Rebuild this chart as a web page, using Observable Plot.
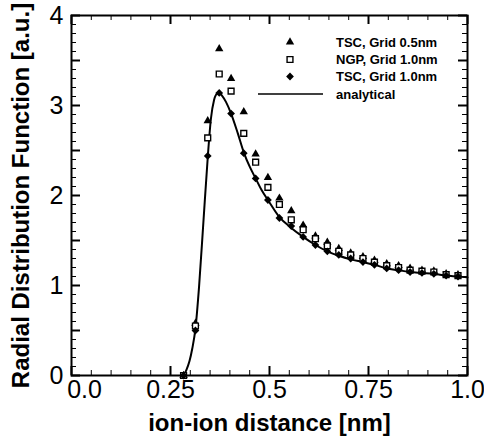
<!DOCTYPE html>
<html><head><meta charset="utf-8">
<script src="https://cdn.jsdelivr.net/npm/d3@7"></script>
<script src="https://cdn.jsdelivr.net/npm/@observablehq/plot@0.6"></script>
<style>
html,body{margin:0;padding:0;background:#fff;}
#wrap{position:relative;width:484px;height:439px;overflow:hidden;}
#wrap text{font-family:"Liberation Sans",Arial,Helvetica,sans-serif;}
#legend{position:absolute;left:0;top:0;pointer-events:none;}
</style></head><body><div id="wrap"></div>
<script>
// ---- data ----
const xPos   = [0.283, 0.313, 0.344, 0.373, 0.403, 0.435, 0.465, 0.496, 0.525, 0.555, 0.585, 0.616, 0.646, 0.675, 0.705, 0.736, 0.765, 0.796, 0.826, 0.855, 0.885, 0.915, 0.946, 0.976];
const tsc05  = [0, 0.58, 2.83, 3.63, 3.30, 2.93, 2.46, 2.20, 1.97, 1.83, 1.67, 1.55, 1.48, 1.41, 1.36, 1.32, 1.28, 1.24, 1.22, 1.19, 1.17, 1.16, 1.13, 1.12];
const ngp10  = [0, 0.55, 2.64, 3.35, 3.16, 2.69, 2.37, 2.09, 1.90, 1.73, 1.62, 1.52, 1.44, 1.38, 1.34, 1.30, 1.26, 1.22, 1.20, 1.17, 1.16, 1.15, 1.12, 1.11];
const tsc10  = [0, 0.50, 2.44, 3.14, 2.91, 2.47, 2.19, 1.95, 1.75, 1.66, 1.54, 1.45, 1.38, 1.34, 1.30, 1.26, 1.23, 1.19, 1.17, 1.15, 1.14, 1.13, 1.11, 1.10];
const curveX = [0.283, 0.290, 0.298, 0.305, 0.313, 0.322, 0.333, 0.344, 0.352, 0.360, 0.367, 0.373, 0.380, 0.390, 0.403, 0.420, 0.435, 0.450, 0.465, 0.480, 0.496, 0.525, 0.555, 0.585, 0.616, 0.646, 0.675, 0.705, 0.736, 0.765, 0.796, 0.826, 0.855, 0.885, 0.915, 0.946, 0.976, 1.0];
const curveY = [0, 0.06, 0.16, 0.30, 0.52, 0.98, 1.70, 2.42, 2.85, 3.06, 3.13, 3.14, 3.11, 3.04, 2.91, 2.69, 2.48, 2.32, 2.19, 2.06, 1.95, 1.76, 1.64, 1.54, 1.45, 1.38, 1.33, 1.29, 1.26, 1.23, 1.19, 1.17, 1.15, 1.14, 1.13, 1.11, 1.10, 1.09];
const xTicks = [0, 0.25, 0.5, 0.75, 1.0];
const xTickLabels = ["0.0", "0.25", "0.5", "0.75", "1.0"];
const yTicks = [0, 1, 2, 3, 4];
const yTickLabels = ["0", "1", "2", "3", "4"];
const seriesNames = ["TSC, Grid 0.5nm", "NGP, Grid 1.0nm", "TSC, Grid 1.0nm", "analytical"];
const xTitle = "ion-ion distance [nm]";
const yTitle = "Radial Distribution Function [a.u.]";

// ---- tables ----
const pts = (ys) => xPos.map((x, i) => ({x, y: ys[i]}));
const curve = curveX.map((x, i) => ({x, y: curveY[i]}));
const xMajor = d3.range(0, 1.0001, 0.25);
const xMinor = d3.range(0, 1.0001, 0.05);
const yMajor = d3.range(0, 4.0001, 0.5);
const yMinor = d3.range(0, 4.0001, 0.1);

const W = 484, H = 439;
const mL = 71, mR = 17, mT = 15, mB = 64;
const xSpan = 1 - 0, ySpan = 4 - 0;
const pxX = (W - mL - mR) / xSpan, pxY = (H - mT - mB) / ySpan;
const tX = (px) => px / pxY; // pixel length -> y units (for x-axis ticks)
const tY = (px) => px / pxX; // pixel length -> x units (for y-axis ticks)

const R_TRI = 3.1, R_SQ = 3.3, R_DIA = 3.5;
const fmtX = d => xTickLabels[xTicks.indexOf(d)];
const fmtY = d => yTickLabels[yTicks.indexOf(d)];

const plot = Plot.plot({
  width: W, height: H,
  marginLeft: mL, marginRight: mR, marginTop: mT, marginBottom: mB,
  x: {domain: [0, 1]},
  y: {domain: [0, 4]},
  style: {background: "white", color: "black", fontFamily: "'Liberation Sans', Arial, sans-serif"},
  marks: [
    // inward ticks, bottom & top
    Plot.ruleX(xMinor, {x: d => d, y1: 0, y2: tX(5), strokeWidth: 1}),
    Plot.ruleX(xMinor, {x: d => d, y1: 4, y2: 4 - tX(5), strokeWidth: 1}),
    Plot.ruleX(xMajor, {x: d => d, y1: 0, y2: tX(9), strokeWidth: 2}),
    Plot.ruleX(xMajor, {x: d => d, y1: 4, y2: 4 - tX(9), strokeWidth: 2}),
    // inward ticks, left & right
    Plot.ruleY(yMinor, {y: d => d, x1: 0, x2: tY(5), strokeWidth: 1}),
    Plot.ruleY(yMinor, {y: d => d, x1: 1, x2: 1 - tY(5), strokeWidth: 1}),
    Plot.ruleY(yMajor, {y: d => d, x1: 0, x2: tY(9), strokeWidth: 2}),
    Plot.ruleY(yMajor, {y: d => d, x1: 1, x2: 1 - tY(9), strokeWidth: 2}),
    Plot.frame({stroke: "black", strokeWidth: 2}),
    Plot.axisX(xTicks.slice(0, 1), {tickSize: 0, tickPadding: 5, fontSize: 25, label: null, dx: 13, tickFormat: fmtX}),
    Plot.axisX(xTicks.slice(1), {tickSize: 0, tickPadding: 5, fontSize: 25, label: null, tickFormat: fmtX}),
    Plot.axisY(yTicks, {tickSize: 0, tickPadding: 8, fontSize: 25, label: null, tickFormat: fmtY}),
    Plot.line(curve, {x: "x", y: "y", stroke: "black", strokeWidth: 2, curve: "monotone-x"}),
    Plot.dot(pts(tsc05), {x: "x", y: "y", symbol: "triangle", r: R_TRI, fill: "black", stroke: "none"}),
    Plot.dot(pts(ngp10), {x: "x", y: "y", symbol: "square", r: R_SQ, fill: "white", stroke: "black", strokeWidth: 1.4}),
    Plot.dot(pts(tsc10), {x: "x", y: "y", symbol: "diamond2", r: R_DIA, fill: "black", stroke: "none"}),
    Plot.text([xTitle], {frameAnchor: "bottom", dy: 48, lineAnchor: "middle", textAnchor: "middle", fontSize: 24, fontWeight: "bold"}),
    Plot.text([yTitle], {frameAnchor: "left", dx: -50, rotate: -90, lineAnchor: "middle", textAnchor: "middle", fontSize: 24, fontWeight: "bold"})
  ]
});
const wrap = document.getElementById("wrap");
wrap.appendChild(plot);

// ---- legend overlay (inside plot, top right) ----
const leg = d3.select(wrap).append("svg").attr("id", "legend").attr("width", W).attr("height", H);
const legSymX = 290, legTextX = 336, legRows = [42, 59.5, 76.5, 94];
const sym = (type, r) => d3.symbol(type, Math.PI * r * r)();
leg.append("path").attr("d", sym(d3.symbolTriangle, R_TRI)).attr("transform", `translate(${legSymX},${legRows[0]})`).attr("fill", "black");
leg.append("path").attr("d", sym(d3.symbolSquare, R_SQ)).attr("transform", `translate(${legSymX},${legRows[1]})`).attr("fill", "white").attr("stroke", "black").attr("stroke-width", 1.4);
leg.append("path").attr("d", sym(d3.symbolDiamond2, R_DIA)).attr("transform", `translate(${legSymX},${legRows[2]})`).attr("fill", "black");
leg.append("line").attr("x1", 258).attr("x2", 323).attr("y1", legRows[3]).attr("y2", legRows[3]).attr("stroke", "black").attr("stroke-width", 1.5);
seriesNames.forEach((s, i) => {
  leg.append("text").attr("x", legTextX).attr("y", legRows[i]).attr("dy", "0.35em")
    .attr("font-size", 13).attr("font-weight", "bold").attr("fill", "black").text(s);
});
</script></body></html>
